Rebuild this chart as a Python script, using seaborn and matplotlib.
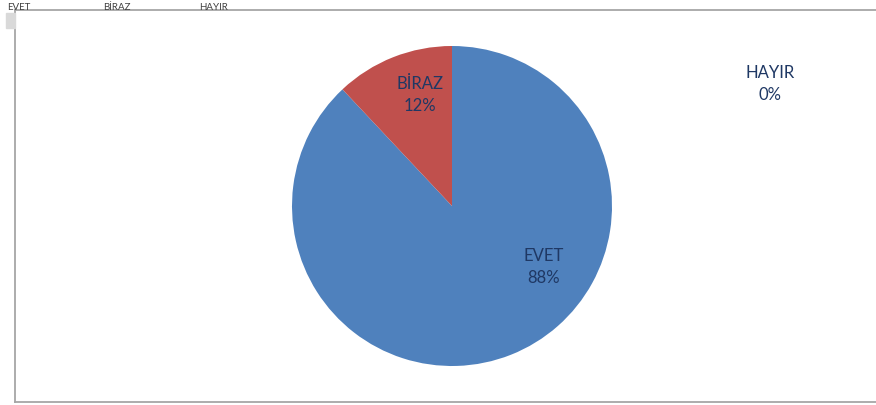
import matplotlib.pyplot as plt
import seaborn as sns
from matplotlib.patches import Rectangle

categories = ['EVET', 'BİRAZ', 'HAYIR']
percents = [88, 12, 0]
colors = ['#4F81BD', '#C0504D', '#9BBB59']

sns.set_theme(style='white')
plt.rcParams['font.family'] = ['Lato', 'DejaVu Sans']

W, H = 876, 406
fig = plt.figure(figsize=(W / 100, H / 100), dpi=100)
fig.patch.set_facecolor('white')

# cerceve
bg = fig.add_axes([15 / W, 3 / H, (W - 15) / W + 0.01, (403 - 11) / H])
bg.set_xticks([])
bg.set_yticks([])
for side in ['left', 'top', 'bottom']:
    bg.spines[side].set_color('#A6A6A6')
    bg.spines[side].set_linewidth(1.3)
bg.spines['right'].set_visible(False)

fig.patches.append(Rectangle((6 / W, (H - 29) / H), 9 / W, 15 / H,
                             transform=fig.transFigure, color='#D9D9D9', zorder=5))

# ust etiketler
for i, c in enumerate(categories):
    fig.text((7 + i * 96) / W, (H - 7) / H, c, fontsize=7, color='#404040',
             va='center', ha='left')

# pasta
cx, cy, r = 452, 199, 160
ax = fig.add_axes([(cx - r) / W, (cy - r) / H, 2 * r / W, 2 * r / H])
ax.pie(percents, colors=colors, startangle=90, counterclock=False,
       wedgeprops=dict(linewidth=0), radius=1)
ax.set_xlim(-1, 1)
ax.set_ylim(-1, 1)
ax.set_aspect('auto')
ax.axis('off')

label_pos = [(0.57, -0.375), (-0.2, 0.7), (1.99, 0.77)]
for c, p, (x, y) in zip(categories, percents, label_pos):
    ax.text(x, y, f'{c}\n{p}%', ha='center', va='center', fontsize=12,
            color='#1F3864', linespacing=1.45)

plt.savefig('out.png', dpi=100)
